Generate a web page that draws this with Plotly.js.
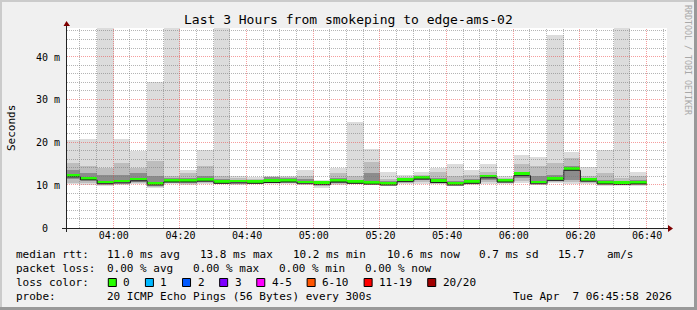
<!DOCTYPE html>
<html><head><meta charset="utf-8">
<script src="https://cdn.plot.ly/plotly-3.0.1.min.js"></script>
<style>html,body{margin:0;padding:0;background:#f0f0f0;overflow:hidden}#chart{width:697px;height:310px}</style>
</head><body><div id="chart"></div>
<script>
// ---- data (5-minute intervals, labelled by interval end time) ----
const intervalEnds = ['03:50','03:55','04:00','04:05','04:10','04:15','04:20','04:25','04:30','04:35',
  '04:40','04:45','04:50','04:55','05:00','05:05','05:10','05:15','05:20','05:25',
  '05:30','05:35','05:40','05:45','05:50','05:55','06:00','06:05','06:10','06:15',
  '06:20','06:25','06:30','06:35','06:40'];
const rttMax = [20.5,20.8,52,20.8,18.1,34.2,52,13.6,18.3,52, 12.2,12.0,12.2,12.2,13.6,11.2,14.0,24.9,18.5,13.0,
  12.4,13.0,14.0,15.0,13.6,15.0,12.2,17.2,16.7,45.2, 17.9,14.2,18.3,52,13.0];
const rttHi2 = [15.2,14.6,14.0,15.2,14.0,15.6,12.1,12.8,14.4,12.1, 11.8,11.5,12.0,11.9,12.1,11.1,12.8,12.1,15.5,11.5,
  12.0,12.5,13.2,12.1,12.5,13.2,11.8,15.0,14.4,15.2, 16.3,12.1,12.8,11.7,12.1];
const rttHi3 = [13.6,12.8,12.5,12.5,12.8,12.1,11.6,11.8,12.1,11.5, 11.3,11.2,11.9,11.6,11.5,10.9,11.6,11.3,12.8,11.0,
  11.6,12.1,11.6,11.1,11.5,12.5,11.4,13.0,12.1,12.5, 14.4,11.6,11.3,11.0,11.3];
const rttMedian = [12.3,11.6,10.7,10.9,11.4,10.4,11.1,11.1,11.3,10.8, 10.9,10.8,11.0,11.1,10.7,10.5,11.1,10.8,10.6,10.4,
  11.2,11.8,11.0,10.4,10.8,12.1,11.1,12.6,10.7,11.5, 13.85,11.3,10.65,10.5,10.65];
const rttLo3 = [11.5,11.2,10.4,10.6,10.8,10.1,10.8,10.7,10.9,10.6, 10.6,10.5,10.7,10.8,10.5,10.2,10.5,10.5,10.4,10.2,
  10.8,11.2,10.6,10.2,10.5,11.3,10.7,11.8,10.5,11.0, 11.3,10.9,10.3,10.2,10.3];
const rttLo2 = [10.6,10.6,10.1,10.3,10.5,9.7,10.5,10.3,10.5,10.4, 10.3,10.4,10.5,10.5,10.3,9.8,10.2,10.3,10.2,10.0,
  10.5,10.8,10.4,10.0,10.2,10.8,10.5,11.0,10.3,10.7, 10.8,10.6,10.0,10.1,10.0];
const rttMin = [10.3,10.1,9.9,10.0,10.3,9.3,10.4,10.0,10.3,10.3, 10.1,10.3,10.2,10.3,10.2,9.3,10.0,10.2,10.0,9.9,
  10.2,10.4,10.4,9.9,10.0,10.3,10.4,10.5,10.1,10.5, 10.3,10.4,9.9,10.1,9.9];
const xTickLabels = ['04:00','04:20','04:40','05:00','05:20','05:40','06:00','06:20','06:40'];
const yTickVals = [0,10,20,30,40];
const yTickText = ['0\u00a0\u00a0','10 m','20 m','30 m','40 m'];
const statLines = [
  ['median rtt:','11.0 ms avg','13.8 ms max','10.2 ms min','10.6 ms now','0.7 ms sd','15.7','am/s'],
  ['packet loss:','0.00 % avg','0.00 % max','0.00 % min','0.00 % now'],
  ['probe:','20 ICMP Echo Pings (56 Bytes) every 300s','Tue Apr\u00a0\u00a07 06:45:58 2026']
];
const lossLabels = ['0','1','2','3','4-5','6-10','11-19','20/20'];
const lossColors = ['#26ff00','#00b8ff','#0059ff','#7e00ff','#ff00ff','#ff5500','#ff0000','#a10000'];
const windowStart = '03:45:58', windowEnd = '06:45:58';

// ---- helpers ----
const t = s => { const p = s.split(':').map(Number); return Date.UTC(2026,3,7,p[0],p[1],p[2]||0); };
const STEP = 300000;
const ends = intervalEnds.map(t);
const centers = ends.map(e => e - STEP/2);
const W=697, H=310, L=67, R=667, T=28, B=228;
const PX = x => (x-L)/(R-L), PY = y => (B-y)/(B-T);
const MONO = 'DejaVu Sans Mono';
const yMax = 46.8;
const t0 = t(windowStart), t1 = t(windowEnd);

function layer(lo, hi, color){
  return {type:'bar', x:centers, base:lo, y:hi.map((h,i)=>h-lo[i]), width:STEP,
    marker:{color:color, line:{width:0}}, hoverinfo:'skip', showlegend:false};
}
const traces = [
  layer(rttMin, rttMax, '#dcdcdc'),
  layer(rttLo2, rttHi2, '#bdbdbd'),
  layer(rttLo3, rttHi3, '#8c8c8c'),
  {type:'scatter', mode:'lines', x:ends.map(e=>e-STEP).concat([ends[ends.length-1]]),
    y:rttMedian.map(v=>v-0.35).concat([rttMedian[rttMedian.length-1]-0.35]),
    line:{shape:'hv', color:'#202020', width:1}, hoverinfo:'skip', showlegend:false},
  {type:'bar', x:centers, base:rttMedian.map(v=>v-0.25), y:rttMedian.map(()=>0.65), width:STEP,
    marker:{color:lossColors[0], line:{width:0}}, hoverinfo:'skip', showlegend:false}
];

const shapes = [];
// grid (drawn above like rrdtool), snapped to pixel centres
const GRID = 'rgba(120,120,120,0.55)', MGRID = 'rgba(235,60,60,0.5)';
for (let v=2; v<yMax; v+=2){
  const major = v%10===0;
  const yp = Math.round(B - v/yMax*(B-T)) - 0.5;
  shapes.push({type:'line', xref:'paper', yref:'paper', x0:0, x1:1, y0:PY(yp), y1:PY(yp), layer:'above',
    line:{color: major?MGRID:GRID, width:1, dash:'1px,1px'}});
}
for (let m=t('03:50'); m<t1; m+=STEP){
  const major = ((m/60000)%20)===0;
  const xp = Math.round(L + (m-t0)/(t1-t0)*(R-L)) - 0.5;
  shapes.push({type:'line', xref:'paper', yref:'paper', x0:PX(xp), x1:PX(xp), y0:0, y1:1, layer:'above',
    line:{color: major?MGRID:GRID, width:1, dash:'1px,1px'}});
}
// axes + arrows
shapes.push({type:'line', xref:'paper', yref:'paper', x0:PX(62), x1:PX(669), y0:PY(228.5), y1:PY(228.5), layer:'above', line:{color:'#222', width:1}});
shapes.push({type:'line', xref:'paper', yref:'paper', x0:PX(66.5), x1:PX(66.5), y0:PY(232), y1:PY(25), layer:'above', line:{color:'#222', width:1}});
shapes.push({type:'path', xref:'paper', yref:'paper', layer:'above', fillcolor:'#7f0000', line:{width:0},
  path:`M ${PX(668)},${PY(225)} L ${PX(673)},${PY(228.5)} L ${PX(668)},${PY(232)} Z`});
shapes.push({type:'path', xref:'paper', yref:'paper', layer:'above', fillcolor:'#7f0000', line:{width:0},
  path:`M ${PX(63.5)},${PY(26)} L ${PX(66.5)},${PY(21)} L ${PX(70)},${PY(26)} Z`});
// frame shading
shapes.push({type:'rect', xref:'paper', yref:'paper', x0:PX(0), x1:PX(697), y0:PY(0), y1:PY(2), fillcolor:'#cbcbcb', line:{width:0}});
shapes.push({type:'rect', xref:'paper', yref:'paper', x0:PX(0), x1:PX(2), y0:PY(0), y1:PY(310), fillcolor:'#cbcbcb', line:{width:0}});
shapes.push({type:'rect', xref:'paper', yref:'paper', x0:PX(0), x1:PX(697), y0:PY(307), y1:PY(310), fillcolor:'#999999', line:{width:0}});
shapes.push({type:'rect', xref:'paper', yref:'paper', x0:PX(694), x1:PX(697), y0:PY(0), y1:PY(310), fillcolor:'#999999', line:{width:0}});

const ann = [];
function txt(x, y, s, opts){
  ann.push(Object.assign({xref:'paper', yref:'paper', x:PX(x), y:PY(y), text:s, showarrow:false,
    xanchor:'left', yanchor:'middle', borderpad:0, borderwidth:0,
    font:{family:MONO, size:11, color:'#000'}}, opts||{}));
}
txt(348.5, 19, 'Last 3 Hours from smokeping to edge-ams-02', {xanchor:'center', font:{family:MONO, size:13, color:'#000'}});
txt(11, 128, 'Seconds', {xanchor:'center', textangle:-90, font:{family:MONO, size:11, color:'#000'}});
txt(688, 60, 'RRDTOOL / TOBI OETIKER', {xanchor:'center', textangle:90, font:{family:MONO, size:8.3, color:'#a8a8a8'}});
const l1x = [16,107.3,200,293.3,386.7,479.3,558.3,606.7];
statLines[0].forEach((s,i)=>txt(l1x[i], 254.5, s));
const l2x = [16,107.3,193.3,279.3,365];
statLines[1].forEach((s,i)=>txt(l2x[i], 268.5, s));
txt(16, 282.5, 'loss color:');
let bx = 108.3;
lossLabels.forEach((lab,i)=>{
  shapes.push({type:'rect', xref:'paper', yref:'paper', x0:PX(bx), x1:PX(bx+8), y0:PY(278.5), y1:PY(286.5),
    fillcolor:lossColors[i], line:{color:'#000', width:1}});
  txt(bx+15, 282.5, lab);
  bx = bx + 15 + lab.length*6.62 + 15.5;
});
const l4x = [16,107.3,513.3];
statLines[2].forEach((s,i)=>txt(l4x[i], 296.5, s));

const layout = {
  width:W, height:H, margin:{l:L, r:W-R, t:T, b:H-B}, paper_bgcolor:'#f0f0f0', plot_bgcolor:'#ffffff',
  barmode:'overlay', bargap:0, showlegend:false,
  xaxis:{type:'date', range:[t0, t1], showgrid:false, zeroline:false, showline:false,
    tickmode:'array', tickvals:xTickLabels.map(t), ticktext:xTickLabels, ticks:'',
    tickfont:{family:MONO, size:10, color:'#000'}, fixedrange:true},
  yaxis:{range:[0, yMax], showgrid:false, zeroline:false, showline:false, tickmode:'array',
    tickvals:yTickVals, ticktext:yTickText, ticks:'', ticklabelstandoff:6,
    tickfont:{family:MONO, size:10, color:'#000'}, fixedrange:true},
  shapes:shapes, annotations:ann
};
Plotly.newPlot('chart', traces, layout, {staticPlot:true, displayModeBar:false});
</script></body></html>
